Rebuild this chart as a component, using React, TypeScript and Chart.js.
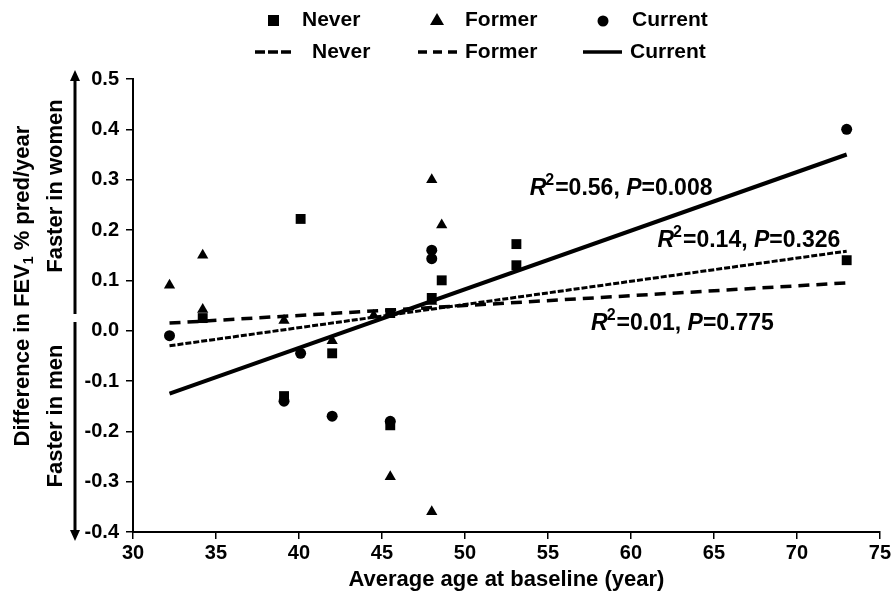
import React, { useEffect, useRef } from 'react';
import { Chart, registerables } from 'chart.js';
Chart.register(...registerables);

// ---- data ----
const neverAge = [34.2, 40.1, 39.1, 42.0, 45.5, 45.5, 48.0, 48.6, 53.1, 53.1, 73.0];
const neverDiff = [0.025, 0.222, -0.13, -0.045, -0.188, 0.035, 0.065, 0.10, 0.172, 0.13, 0.14];

const formerAge = [32.2, 34.2, 34.2, 39.1, 42.0, 44.5, 45.5, 48.0, 48.6, 48.0, 48.0];
const formerDiff = [0.09, 0.15, 0.042, 0.02, -0.02, 0.03, -0.29, 0.30, 0.21, 0.058, -0.36];

const currentAge = [32.2, 40.1, 39.1, 42.0, 45.5, 48.0, 48.0, 73.0];
const currentDiff = [-0.01, -0.045, -0.14, -0.17, -0.18, 0.16, 0.143, 0.40];

const fitAge = [32.2, 73.0];
const neverFit = [-0.03, 0.158];
const formerFit = [0.015, 0.095];
const currentFit = [-0.125, 0.35];

const groupNames = ['Never', 'Former', 'Current'];
const r2Values = ['0.56', '0.14', '0.01'];
const pValues = ['0.008', '0.326', '0.775'];
// annotation anchors (age, diff) for Current, Never, Former fits
const annotAge = [53.9, 61.6, 57.6];
const annotDiff = [0.27, 0.167, 0.001];

const xTicksMin = 30, xTicksMax = 75, xStep = 5;
const yTicksMin = -0.4, yTicksMax = 0.5, yStep = 0.1;

const yTitle = ['Difference in FEV', '1', ' % pred/year'];
const yUpper = 'Faster in women';
const yLower = 'Faster in men';
const xTitle = 'Average age at baseline (year)';

const FONT = '"Liberation Sans", Arial, sans-serif';

const zip = (xs: number[], ys: number[]) => xs.map((x, i) => ({ x, y: ys[i] }));

const decorPlugin = {
  id: 'decor',
  afterDraw(chart: any) {
    const ctx: CanvasRenderingContext2D = chart.ctx;
    const xs = chart.scales.x;
    const ys = chart.scales.y;
    ctx.save();
    ctx.fillStyle = '#000';
    ctx.strokeStyle = '#000';

    // ---- legend ----
    ctx.font = `bold 21px ${FONT}`;
    ctx.textBaseline = 'middle';
    ctx.textAlign = 'left';
    const r1 = 20, r2 = 52;
    ctx.fillRect(268, r1 - 5, 11, 11);
    ctx.fillText(groupNames[0], 302, r1);
    ctx.beginPath();
    ctx.moveTo(437, r1 - 7);
    ctx.lineTo(444, r1 + 5);
    ctx.lineTo(430, r1 + 5);
    ctx.closePath();
    ctx.fill();
    ctx.fillText(groupNames[1], 465, r1);
    ctx.beginPath();
    ctx.arc(603, r1 + 1, 5.5, 0, Math.PI * 2);
    ctx.fill();
    ctx.fillText(groupNames[2], 632, r1);

    ctx.lineWidth = 3.5;
    ctx.setLineDash([10, 3]);
    ctx.beginPath();
    ctx.moveTo(255, r2); ctx.lineTo(293, r2); ctx.stroke();
    ctx.setLineDash([9, 6]);
    ctx.beginPath();
    ctx.moveTo(418, r2); ctx.lineTo(461, r2); ctx.stroke();
    ctx.setLineDash([]);
    ctx.beginPath();
    ctx.moveTo(583, r2); ctx.lineTo(622, r2); ctx.stroke();
    ctx.fillText(groupNames[0], 312, r2);
    ctx.fillText(groupNames[1], 465, r2);
    ctx.fillText(groupNames[2], 630, r2);

    // ---- y title with arrows ----
    const big = `bold 22px ${FONT}`;
    const small = `bold 14px ${FONT}`;
    ctx.save();
    ctx.translate(23, 286);
    ctx.rotate(-Math.PI / 2);
    ctx.font = big;
    const w0 = ctx.measureText(yTitle[0]).width;
    ctx.font = small;
    const w1 = ctx.measureText(yTitle[1]).width;
    ctx.font = big;
    const w2 = ctx.measureText(yTitle[2]).width;
    let sx = -(w0 + w1 + w2) / 2;
    ctx.textAlign = 'left';
    ctx.fillText(yTitle[0], sx, 0);
    sx += w0;
    ctx.font = small;
    ctx.fillText(yTitle[1], sx, 6);
    sx += w1;
    ctx.font = big;
    ctx.fillText(yTitle[2], sx, 0);
    ctx.restore();

    ctx.save();
    ctx.font = big;
    ctx.textAlign = 'center';
    ctx.translate(56, 186);
    ctx.rotate(-Math.PI / 2);
    ctx.fillText(yUpper, 0, 0);
    ctx.restore();
    ctx.save();
    ctx.font = big;
    ctx.textAlign = 'center';
    ctx.translate(56, 416);
    ctx.rotate(-Math.PI / 2);
    ctx.fillText(yLower, 0, 0);
    ctx.restore();

    ctx.lineWidth = 3;
    ctx.beginPath();
    ctx.moveTo(75, 78); ctx.lineTo(75, 314); ctx.stroke();
    ctx.beginPath();
    ctx.moveTo(75, 322); ctx.lineTo(75, 533); ctx.stroke();
    ctx.beginPath();
    ctx.moveTo(75, 70); ctx.lineTo(80, 81); ctx.lineTo(70, 81); ctx.closePath(); ctx.fill();
    ctx.beginPath();
    ctx.moveTo(75, 541); ctx.lineTo(80, 530); ctx.lineTo(70, 530); ctx.closePath(); ctx.fill();

    // ---- x title ----
    ctx.font = big;
    ctx.textAlign = 'center';
    ctx.textBaseline = 'middle';
    ctx.fillText(xTitle, (chart.chartArea.left + chart.chartArea.right) / 2, 580);

    // ---- annotations ----
    ctx.textAlign = 'left';
    ctx.textBaseline = 'alphabetic';
    for (let i = 0; i < r2Values.length; i++) {
      let px = xs.getPixelForValue(annotAge[i]);
      const py = ys.getPixelForValue(annotDiff[i]);
      ctx.font = `italic bold 23px ${FONT}`;
      ctx.fillText('R', px, py);
      px += ctx.measureText('R').width - 1;
      ctx.font = `bold 16px ${FONT}`;
      ctx.fillText('2', px, py - 10);
      px += ctx.measureText('2').width + 1;
      ctx.font = `bold 23px ${FONT}`;
      const t1 = `=${r2Values[i]}, `;
      ctx.fillText(t1, px, py);
      px += ctx.measureText(t1).width;
      ctx.font = `italic bold 23px ${FONT}`;
      ctx.fillText('P', px, py);
      px += ctx.measureText('P').width;
      ctx.font = `bold 23px ${FONT}`;
      ctx.fillText(`=${pValues[i]}`, px, py);
    }
    ctx.restore();
  },
};

export default function App() {
  const ref = useRef<HTMLCanvasElement | null>(null);
  useEffect(() => {
    document.body.style.margin = '0';
    const canvas = ref.current!;
    const chart = new Chart(canvas, {
      type: 'scatter',
      data: {
        datasets: [
          {
            label: 'Never', data: zip(neverAge, neverDiff), pointStyle: 'rect', pointRadius: 7,
            backgroundColor: '#000', borderColor: '#000', borderWidth: 0, showLine: false,
          },
          {
            label: 'Former', data: zip(formerAge, formerDiff), pointStyle: 'triangle', pointRadius: 6.5,
            backgroundColor: '#000', borderColor: '#000', borderWidth: 0, showLine: false,
          },
          {
            label: 'Current', data: zip(currentAge, currentDiff), pointStyle: 'circle', pointRadius: 5.5,
            backgroundColor: '#000', borderColor: '#000', borderWidth: 0, showLine: false,
          },
          {
            label: 'Never fit', data: zip(fitAge, neverFit), showLine: true, pointRadius: 0,
            borderColor: '#000', borderWidth: 3, borderDash: [6, 2],
          },
          {
            label: 'Former fit', data: zip(fitAge, formerFit), showLine: true, pointRadius: 0,
            borderColor: '#000', borderWidth: 3.5, borderDash: [11, 7],
          },
          {
            label: 'Current fit', data: zip(fitAge, currentFit), showLine: true, pointRadius: 0,
            borderColor: '#000', borderWidth: 4,
          },
        ],
      },
      options: {
        responsive: false,
        animation: false,
        devicePixelRatio: 1,
        layout: { padding: { top: 79, right: 13, left: 0, bottom: 0 } },
        plugins: { legend: { display: false }, tooltip: { enabled: false } },
        scales: {
          x: {
            type: 'linear', min: xTicksMin, max: xTicksMax,
            afterFit: (s: any) => { s.height = 64; },
            ticks: {
              stepSize: xStep, color: '#000', padding: 2,
              font: { family: FONT, size: 20, weight: 'bold' },
            },
            grid: { drawOnChartArea: false, drawTicks: true, tickLength: 7, color: '#000', lineWidth: 1.5 },
            border: { display: true, color: '#000', width: 2 },
          },
          y: {
            type: 'linear', min: yTicksMin, max: yTicksMax,
            afterFit: (s: any) => { s.width = 133; },
            ticks: {
              stepSize: yStep, color: '#000', padding: 7,
              font: { family: FONT, size: 20, weight: 'bold' },
              callback: (v: any) => Number(v).toFixed(1),
            },
            grid: { drawOnChartArea: false, drawTicks: true, tickLength: 7, color: '#000', lineWidth: 1.5 },
            border: { display: true, color: '#000', width: 2 },
          },
        },
      },
      plugins: [decorPlugin],
    });
    return () => chart.destroy();
  }, []);
  return (
    <div style={{ position: 'absolute', left: 0, top: 0, width: 893, height: 596, background: '#fff' }}>
      <canvas ref={ref} width={893} height={596} />
    </div>
  );
}
